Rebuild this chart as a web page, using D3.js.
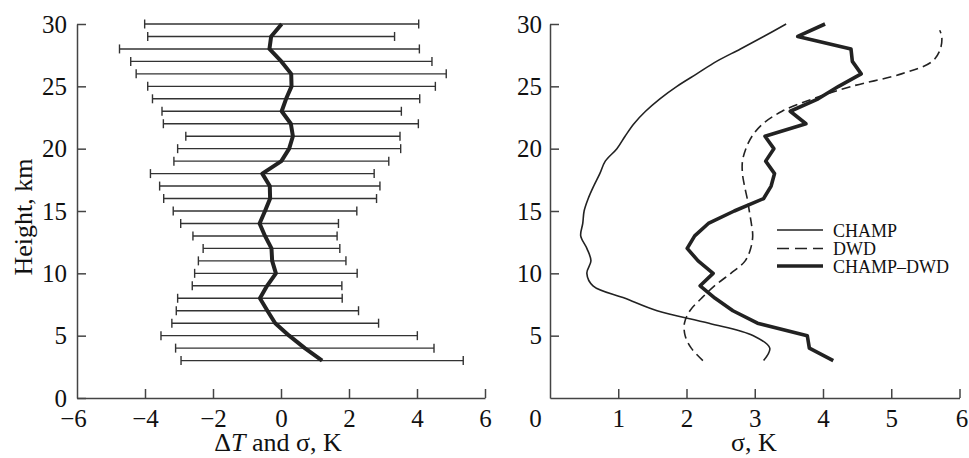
<!DOCTYPE html>
<html>
<head>
<meta charset="utf-8">
<script src="https://cdn.jsdelivr.net/npm/d3@7"></script>
<style>
  body { margin: 0; background: #fff; }
  svg { display: block; font-family: "Liberation Serif", "DejaVu Serif", serif; }
  svg text { font-family: "Liberation Serif", "DejaVu Serif", serif; }
</style>
</head>
<body>
<svg id="chart" width="969" height="458"></svg>
<script>
// ---- data ----
const heights = [3,4,5,6,7,8,9,10,11,12,13,14,15,16,17,18,19,20,21,22,23,24,25,26,27,28,29,30];
// mean temperature difference ΔT (CHAMP − DWD), K
const meanDT = [1.21,0.70,0.24,-0.17,-0.40,-0.62,-0.41,-0.15,-0.26,-0.28,-0.47,-0.63,-0.47,-0.32,-0.33,-0.55,0.01,0.24,0.35,0.29,0.02,0.15,0.31,0.30,0.01,-0.34,-0.29,0.02];
// standard deviation of CHAMP − DWD, K (error bar half-width and thick line)
const sigmaDiff = [4.15,3.80,3.77,3.04,2.68,2.42,2.20,2.39,2.17,2.01,2.12,2.32,2.70,3.13,3.24,3.29,3.16,3.28,3.15,3.75,3.52,3.93,4.23,4.56,4.43,4.41,3.63,4.03];
// σ of CHAMP profiles
const sigmaChamp = [3.13,3.22,2.98,2.33,1.57,1.10,0.63,0.54,0.60,0.54,0.45,0.48,0.50,0.56,0.64,0.73,0.81,0.98,1.10,1.23,1.40,1.61,1.86,2.15,2.44,2.79,3.13,3.46];
// σ of DWD profiles
const dwdHeights = [3,4,5,6,7,8,9,10,11,12,13,14,15,16,17,18,19,20,21,22,23,24,25,26,27,28,29,29.5];
const sigmaDwd = [2.24,2.07,1.98,1.97,2.05,2.22,2.41,2.65,2.86,2.94,2.97,2.95,2.92,2.89,2.85,2.82,2.82,2.87,2.96,3.12,3.40,3.85,4.42,5.15,5.60,5.72,5.74,5.71];

const yTicks = [0,5,10,15,20,25,30];
const xTicksLeft = [-6,-4,-2,0,2,4,6];
const xTicksRight = [0,1,2,3,4,5,6];
const legendItems = [
  {name: "CHAMP", key: "champ"},
  {name: "DWD", key: "dwd"},
  {name: "CHAMP\u2013DWD", key: "diff"}
];

// ---- layout ----
const svg = d3.select("#chart");
const serif = '"Liberation Serif", "DejaVu Serif", serif';
const ink = "#222";
const axisColor = "#444";
const yTop = 24, yBottom = 398;
const y = d3.scaleLinear().domain([0, 30]).range([yBottom, yTop]);
const xL = d3.scaleLinear().domain([-6, 6]).range([77, 485]);
const xR = d3.scaleLinear().domain([0, 6]).range([550, 959.5]);
const fmt = d3.format("d");

const tickFont = 25;
const styles = {
  champ: {width: 1.6, dash: null},
  dwd: {width: 1.6, dash: "9,5"},
  diff: {width: 3.6, dash: null}
};

function styleAxis(g) {
  g.attr("font-family", serif).attr("font-size", tickFont);
  g.select(".domain").attr("stroke", axisColor).attr("stroke-width", 1.5);
  g.selectAll(".tick line").attr("stroke", axisColor).attr("stroke-width", 1.5);
  g.selectAll(".tick text").attr("fill", "#111")
    .attr("font-family", serif).attr("font-size", tickFont);
}

// Left panel axes
const gyL = svg.append("g").attr("transform", `translate(${xL.range()[0]},0)`)
  .call(d3.axisLeft(y).tickValues(yTicks).tickFormat(fmt).tickSizeInner(-9).tickSizeOuter(0).tickPadding(10));
styleAxis(gyL);
const gxL = svg.append("g").attr("transform", `translate(0,${yBottom})`)
  .call(d3.axisBottom(xL).tickValues(xTicksLeft).tickFormat(fmt).tickSizeInner(-9).tickSizeOuter(0).tickPadding(11));
styleAxis(gxL);
gxL.selectAll(".tick").filter(d => d === -6).select("line").remove();
gxL.selectAll(".tick").filter(d => d === -6).select("text").attr("dx", -4);

// Right panel axes
const gyR = svg.append("g").attr("transform", `translate(${xR.range()[0]},0)`)
  .call(d3.axisLeft(y).tickValues(yTicks.filter(d => d > 0)).tickFormat(fmt).tickSizeInner(-9).tickSizeOuter(0).tickPadding(8));
styleAxis(gyR);
const gxR = svg.append("g").attr("transform", `translate(0,${yBottom})`)
  .call(d3.axisBottom(xR).tickValues(xTicksRight).tickFormat(fmt).tickSizeInner(-9).tickSizeOuter(0).tickPadding(11));
styleAxis(gxR);
gxR.selectAll(".tick").filter(d => d === 0).select("line").remove();
gxR.selectAll(".tick").filter(d => d === 0).select("text").attr("dx", -15);
gxR.selectAll(".tick").filter(d => d === 6).select("text").attr("dx", 2);

// Axis titles
svg.append("text")
  .attr("transform", `translate(32,${(yTop + yBottom) / 2 + 6}) rotate(-90)`)
  .attr("text-anchor", "middle").attr("font-size", 26).attr("fill", "#111")
  .text("Height, km");
const tl = svg.append("text").attr("x", 278).attr("y", 451)
  .attr("text-anchor", "middle").attr("font-size", 26).attr("fill", "#111");
tl.append("tspan").text("\u0394");
tl.append("tspan").attr("font-style", "italic").text("T");
tl.append("tspan").text(" and \u03c3, K");
svg.append("text").attr("x", 754).attr("y", 451)
  .attr("text-anchor", "middle").attr("font-size", 26).attr("fill", "#111")
  .text("\u03c3, K");

// ---- left panel: error bars and mean ----
const bars = heights.map((h, i) => ({h, m: meanDT[i], s: sigmaDiff[i]}));
const gb = svg.append("g").attr("stroke", "#333").attr("stroke-width", 1.4);
gb.selectAll("line.bar").data(bars).join("line").attr("class", "bar")
  .attr("x1", d => xL(d.m - d.s)).attr("x2", d => xL(d.m + d.s))
  .attr("y1", d => y(d.h)).attr("y2", d => y(d.h));
gb.selectAll("line.capl").data(bars).join("line").attr("class", "capl")
  .attr("x1", d => xL(d.m - d.s)).attr("x2", d => xL(d.m - d.s))
  .attr("y1", d => y(d.h) - 4.5).attr("y2", d => y(d.h) + 4.5);
gb.selectAll("line.capr").data(bars).join("line").attr("class", "capr")
  .attr("x1", d => xL(d.m + d.s)).attr("x2", d => xL(d.m + d.s))
  .attr("y1", d => y(d.h) - 4.5).attr("y2", d => y(d.h) + 4.5);

svg.append("path").datum(bars)
  .attr("fill", "none").attr("stroke", ink).attr("stroke-width", 4)
  .attr("stroke-linejoin", "round")
  .attr("d", d3.line().x(d => xL(d.m)).y(d => y(d.h)));

// ---- right panel: sigma profiles ----
const champPts = heights.map((h, i) => [sigmaChamp[i], h]);
const dwdPts = dwdHeights.map((h, i) => [sigmaDwd[i], h]);
const diffPts = heights.map((h, i) => [sigmaDiff[i], h]);

svg.append("path").datum(champPts)
  .attr("fill", "none").attr("stroke", ink).attr("stroke-width", styles.champ.width)
  .attr("d", d3.line().x(d => xR(d[0])).y(d => y(d[1])).curve(d3.curveCatmullRom.alpha(0.5)));
svg.append("path").datum(dwdPts)
  .attr("fill", "none").attr("stroke", ink).attr("stroke-width", styles.dwd.width)
  .attr("stroke-dasharray", styles.dwd.dash)
  .attr("d", d3.line().x(d => xR(d[0])).y(d => y(d[1])).curve(d3.curveCatmullRom.alpha(0.5)));
svg.append("path").datum(diffPts)
  .attr("fill", "none").attr("stroke", ink).attr("stroke-width", styles.diff.width)
  .attr("stroke-linejoin", "round")
  .attr("d", d3.line().x(d => xR(d[0])).y(d => y(d[1])));

// ---- legend ----
const lg = svg.append("g").attr("transform", "translate(777,230)");
legendItems.forEach((it, i) => {
  const st = styles[it.key];
  const yy = [0, 18.5, 36][i];
  lg.append("line").attr("x1", 0).attr("x2", 46).attr("y1", yy).attr("y2", yy)
    .attr("stroke", ink).attr("stroke-width", st.width)
    .attr("stroke-dasharray", st.dash ? "12,6" : null);
  lg.append("text").attr("x", 56).attr("y", yy + 6.5)
    .attr("font-size", 18).attr("fill", "#111").text(it.name);
});
</script>
</body>
</html>
